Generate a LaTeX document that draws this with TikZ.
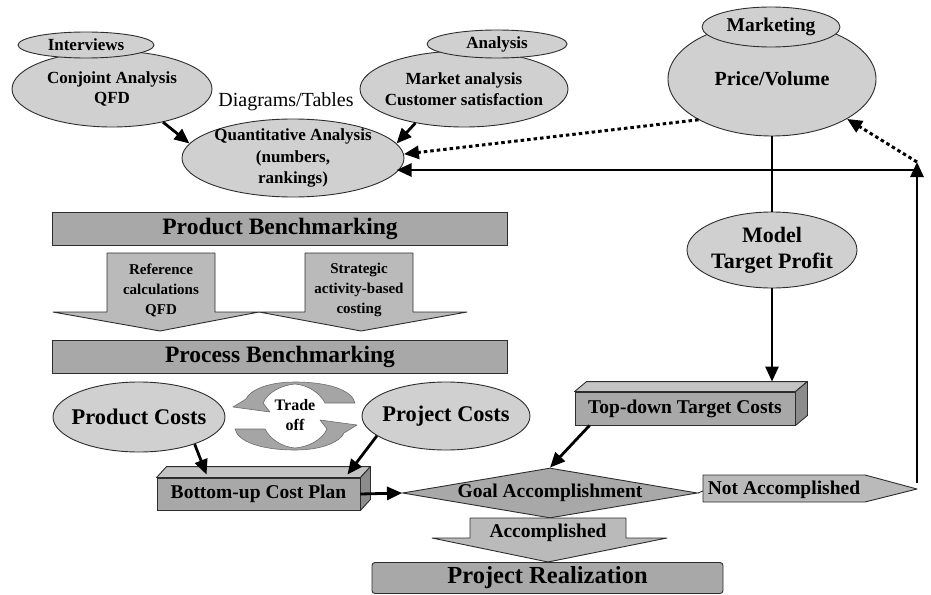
\documentclass[tikz,border=0pt]{standalone}
\usepackage{fontspec}
\setmainfont{Liberation Serif}
\usetikzlibrary{shapes.geometric,arrows.meta,calc}

\definecolor{ellfill}{RGB}{208,208,208}
\definecolor{boxfill}{RGB}{168,168,168}
\definecolor{blockfill}{RGB}{186,186,186}
\definecolor{topfill}{RGB}{196,196,196}
\definecolor{sidefill}{RGB}{140,140,140}
\definecolor{tradefill}{RGB}{165,165,165}
\definecolor{edge}{RGB}{45,45,45}

\tikzset{
  oval/.style={ellipse, draw=edge, fill=ellfill, line width=0.9pt, inner sep=-8pt,
    align=center, font=\bfseries\fontsize{17}{20.5}\selectfont},
  bar/.style={rectangle, draw=edge, fill=boxfill, line width=0.9pt, inner sep=0pt,
    minimum width=455pt, minimum height=33pt, font=\bfseries\fontsize{23.5}{28}\selectfont},
  cube/.style={rectangle, draw=edge, fill=boxfill, line width=0.9pt, inner sep=0pt,
    font=\bfseries\fontsize{19.5}{23}\selectfont},
  cubetop/.style={draw=edge, fill=topfill, line width=0.9pt, line join=round},
  cubeside/.style={draw=edge, fill=sidefill, line width=0.9pt, line join=round},
  block/.style={draw=edge, fill=blockfill, line width=0.9pt, line join=round},
  blocktext/.style={align=center, font=\bfseries\fontsize{15}{20}\selectfont},
  bigtext/.style={align=center, font=\bfseries\fontsize{19.5}{23}\selectfont},
  trade/.style={draw=edge!70, fill=tradefill, line width=0.6pt, line join=round},
  link/.style={line width=2.8pt},
  arr/.style={line width=2.8pt, -{Triangle[length=15pt,width=13pt]}},
  dotarr/.style={line width=3pt, dash pattern=on 3.5pt off 3pt,
    -{Triangle[length=15pt,width=13pt]}},
  tradearc/.pic={
    \filldraw[trade] (-62,-9) -- (-25,-4) -- (-32,-13)
      .. controls (-27,-24) and (-13,-31) .. (0,-32)
      .. controls (13,-31) and (25,-23) .. (30,-13)
      -- (60,-13)
      .. controls (57,-26) and (33,-34) .. (0,-34)
      .. controls (-27,-34) and (-45,-26) .. (-49,-17) -- cycle;
  }
}

\begin{document}
\begin{tikzpicture}[x=1pt,y=-1pt]
\useasboundingbox (0,0) rectangle (931,594);

% ---------- market research inputs ----------
\node[oval, minimum width=200pt, minimum height=76pt] (conj) at (112,89) {Conjoint Analysis\\QFD};
\node[oval, minimum width=136pt, minimum height=26pt] (intv) at (86,45) {Interviews};
\node[oval, minimum width=208pt, minimum height=76pt] (mana) at (464,89) {Market analysis\\Customer satisfaction};
\node[oval, minimum width=140pt, minimum height=28pt] (anal) at (497,44) {Analysis};
\node[font=\fontsize{20}{24}\selectfont] (diag) at (286,102) {Diagrams/Tables};
\node[oval, minimum width=222pt, minimum height=78pt, font=\bfseries\fontsize{17}{21.5}\selectfont] (quant) at (293,158) {Quantitative Analysis\\(numbers,\\rankings)};

% ---------- marketing / target profit ----------
\node[oval, minimum width=208pt, minimum height=114pt, font=\bfseries\fontsize{20}{24}\selectfont] (pv) at (772,79) {Price/Volume};
\node[oval, minimum width=138pt, minimum height=40pt, font=\bfseries\fontsize{19.5}{23}\selectfont] (mkt) at (771,27) {Marketing};
\node[oval, minimum width=170pt, minimum height=76pt, font=\bfseries\fontsize{22}{26}\selectfont] (model) at (772,250) {Model\\Target Profit};

% ---------- benchmarking ----------
\node[bar] (prodbm) at (280,228.5) {Product Benchmarking};
\filldraw[block] (107,253) -- (215,253) -- (215,312) -- (259,312) -- (160,331) -- (53,312) -- (107,312) -- cycle;
\filldraw[block] (305,253) -- (413,253) -- (413,312) -- (467,312) -- (361,331) -- (259,312) -- (305,312) -- cycle;
\node[blocktext] (reft) at (161,290) {Reference\\calculations\\QFD};
\node[blocktext] (strt) at (359,290) {Strategic\\activity-based\\costing};
\node[bar] (procbm) at (280,356.5) {Process Benchmarking};

% ---------- cost estimates and trade-off ----------
\node[oval, minimum width=172pt, minimum height=70pt, font=\bfseries\fontsize{22.4}{26}\selectfont] (pc) at (139,417) {Product Costs};
\node[oval, minimum width=168pt, minimum height=68pt, font=\bfseries\fontsize{22.4}{26}\selectfont] (prc) at (446,416) {Project Costs};
\pic at (295,416) {tradearc};
\pic[rotate=180] at (295,416) {tradearc};
\node[align=center, font=\bfseries\fontsize{16}{20}\selectfont] (tradet) at (295,415) {Trade\\off};

% ---------- cost plans ----------
\node[cube, minimum width=203pt, minimum height=32pt] (bu) at (258.5,494) {Bottom-up Cost Plan};
\filldraw[cubetop] (bu.north west) -- ++(10,-11) -- ($(bu.north east)+(10,-11)$) -- (bu.north east) -- cycle;
\filldraw[cubeside] (bu.north east) -- ++(10,-11) -- ($(bu.south east)+(10,-11)$) -- (bu.south east) -- cycle;

\node[cube, minimum width=220pt, minimum height=33pt] (td) at (685,408.5) {Top-down Target Costs};
\filldraw[cubetop] (td.north west) -- ++(12,-10) -- ($(td.north east)+(12,-10)$) -- (td.north east) -- cycle;
\filldraw[cubeside] (td.north east) -- ++(12,-10) -- ($(td.south east)+(12,-10)$) -- (td.south east) -- cycle;

% ---------- decision ----------
\node[diamond, draw=edge, fill=boxfill, line width=0.9pt, aspect=5.9, inner sep=0pt,
      minimum width=295pt, minimum height=50pt, font=\bfseries\fontsize{19.5}{23}\selectfont] (goal) at (550,493) {Goal Accomplishment};
\filldraw[block] (470,518) -- (626,518) -- (626,538) -- (667,538) -- (548,562) -- (432,538) -- (470,538) -- cycle;
\node[bigtext] (acct) at (548,533) {Accomplished};
\filldraw[block] (703,475) -- (865,475) -- (917,489) -- (865,502) -- (703,502) -- cycle;
\node[bigtext] (nat) at (784,489.5) {Not Accomplished};
\coordinate (naL) at (703,491);
\draw[edge, line width=0.9pt] (goal.east) -- (naL);
\node[bar, rounded corners=3pt, minimum width=351pt, minimum height=31pt,
      font=\bfseries\fontsize{24.5}{28}\selectfont] (real) at (547.5,578) {Project Realization};

% ---------- connectors ----------
\draw[arr] (conj.-33) -- (quant.172);
\draw[arr] (mana.215) -- (quant.8);
\draw[dotarr] (pv.209) -- (quant.2);

\draw[link] (pv.south) -- (model.north);
\coordinate (tdtop) at ($(td.north)+(0,-10)$);
\draw[arr] (model.south) -- (model.south |- tdtop);

\coordinate (fbbase) at (917,483);
\coordinate (fbtop) at (917,162);
\coordinate (fbh) at (917,170);
\draw[arr] (fbh) -- (fbh -| quant.-8);
\draw[arr] (fbbase) -- (fbtop);
\draw[dotarr] (fbtop) -- (pv.-28);

\draw[arr] (pc.-26) -- ($(bu.north west)+(50,-3)$);
\draw[arr] (prc.196) -- ($(bu.north east)+(-13,-3)$);
\draw[arr] (bu.east) -- (goal.west);
\draw[arr] ([xshift=15pt]td.south west) -- (goal.north);
\end{tikzpicture}
\end{document}
